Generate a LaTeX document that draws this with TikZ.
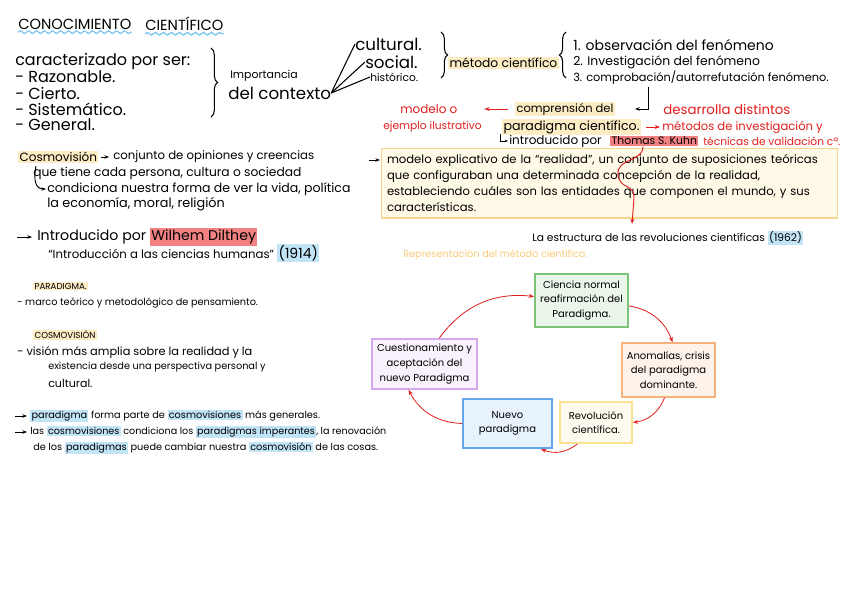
\documentclass[tikz,border=0pt]{standalone}
\usepackage{fontspec}
\setmainfont{Poppins}
\usetikzlibrary{positioning, arrows.meta, calc, decorations.pathreplacing, decorations.pathmorphing}

\definecolor{notered}{RGB}{226, 30, 30}
\definecolor{hlyellow}{RGB}{252, 236, 196}
\definecolor{hlblue}{RGB}{194, 228, 247}
\definecolor{hlred}{RGB}{242, 130, 130}
\definecolor{wavyblue}{RGB}{120, 196, 238}
\definecolor{boxfill}{RGB}{255, 250, 232}
\definecolor{boxline}{RGB}{246, 214, 140}
\definecolor{softorange}{RGB}{248, 204, 120}
\definecolor{stgreen}{RGB}{124, 196, 120}
\definecolor{storange}{RGB}{246, 178, 122}
\definecolor{styellow}{RGB}{250, 226, 145}
\definecolor{stblue}{RGB}{100, 165, 240}
\definecolor{stpurple}{RGB}{214, 168, 240}

\newcommand{\hly}[1]{{\setlength{\fboxsep}{1pt}\colorbox{hlyellow}{#1}}}
\newcommand{\hlb}[1]{{\setlength{\fboxsep}{1pt}\colorbox{hlblue}{#1}}}
\newcommand{\hlr}[1]{{\setlength{\fboxsep}{1pt}\colorbox{hlred}{#1}}}

\tikzset{
  txt/.style={anchor=west, inner sep=0pt, font=\fontsize{#1}{13}\selectfont},
  txt/.default=10,
  arr/.style={-{Stealth[length=3.5pt]}, line width=0.7pt},
  redarr/.style={-{Stealth[length=4pt]}, notered, line width=0.7pt},
  cycarr/.style={-{Stealth[length=4pt]}, notered, line width=0.6pt, bend left=30},
  curly/.style={decorate, decoration={brace, amplitude=5pt}, line width=0.8pt},
  wavy/.style={wavyblue, line width=0.9pt, decorate, decoration={snake, amplitude=1pt, segment length=6pt}},
  stage/.style={draw=#1, fill=#1!15, line width=1.2pt, align=center, inner sep=2pt, font=\fontsize{7.5}{11}\selectfont},
}

\begin{document}
\begin{tikzpicture}[x=0.75pt, y=-0.75pt]
  \fill[white] (0,0) rectangle (848,599);
  \useasboundingbox (0,0) rectangle (848,599);

  % title
  \node[txt=11] (title1) at (18,24) {CONOCIMIENTO};
  \node[txt=11] (title2) at (145,24) {CIENTÍFICO};
  \draw[wavy] ([yshift=-2pt]title1.south west) -- ([yshift=-2pt]title1.south east);
  \draw[wavy] ([yshift=-2pt]title2.south west) -- ([yshift=-2pt]title2.south east);

  % caracteristicas
  \node[txt=12] (carac) at (15,61) {caracterizado por ser:};
  \node[txt=12] (razon) at (15,77) {- Razonable.};
  \node[txt=12] (cierto) at (15,93) {- Cierto.};
  \node[txt=12] (sistem) at (15,109) {- Sistemático.};
  \node[txt=12] (general) at (15,125) {- General.};
  \draw[curly] (211,48) -- (211,117);

  \node[txt=8.2] (import) at (230,76) {Importancia};
  \node[txt=12.5] (ctx) at (228,93) {del contexto};
  \node[txt=12.5] (cult) at (355,44) {cultural.};
  \node[txt=12.5] (soc) at (365,62) {social.};
  \node[txt=8] (hist) at (370,77) {histórico.};
  \draw[line width=0.8pt] (ctx.east) -- (cult.west);
  \draw[line width=0.8pt] (ctx.east) -- (soc.west);
  \draw[line width=0.8pt] (ctx.east) -- (hist.west);

  % metodo cientifico
  \draw[curly] (441,32) -- (441,78);
  \node[txt=9.2] (metodo) at (448,63) {\hly{método científico}};
  \draw[curly] (566,78) -- (566,32);
  \node[txt=10.5] (obs) at (573,45) {1. observación del fenómeno};
  \node[txt=9.3] (inv) at (573,62) {2. Investigación del fenómeno};
  \node[txt=8.5] (comprob) at (573,78) {3. comprobación/autorrefutación fenómeno.};

  % paradigma cientifico
  \node[txt=9, text=notered] (modelo) at (400,109) {modelo o};
  \node[txt=8, text=notered] (ejemplo) at (383,127) {ejemplo ilustrativo};
  \node[txt=8.6] (compr) at (515,109) {\hly{comprensión del}};
  \node[txt=9.5] (parad) at (502,127) {\hly{paradigma científico.}};
  \node[txt=10, text=notered] (desarr) at (663,109) {desarrolla distintos};
  \node[txt=8.7, text=notered] (metodos) at (662,127) {métodos de investigación y};
  \node[txt=9] (intro) at (509,141) {introducido por};
  \node[txt=8.1] (kuhn) at (610,141) {\hlr{Thomas S. Kuhn}};
  \node[txt=8, text=notered] (tecnicas) at (703,141) {técnicas de validación cª.};
  \draw[redarr, shorten >=20pt, shorten <=5pt] (compr.west) -- (modelo.east);
  \draw[redarr, shorten >=1.5pt, shorten <=4pt] (parad.east) -- (metodos.west);
  \draw[arr] ($(comprob.south west)+(75,2)$) |- ($(compr.east)+(20,0)$);
  \draw[-{Stealth[length=2.5pt]}, line width=0.6pt] ($(intro.west)+(-9,-7)$) |- ($(intro.west)+(-1,0)$);

  \node[draw=boxline, fill=boxfill, line width=1pt, anchor=north west, text width=334pt,
        minimum height=52pt, inner xsep=4pt, inner ysep=3pt, align=left,
        font=\fontsize{8.7}{12}\selectfont] (defbox) at (381,148)
    {modelo explicativo de la “realidad”, un conjunto de suposiciones teóricas\\
     que configuraban una determinada concepción de la realidad,\\
     estableciendo cuáles son las entidades que componen el mundo, y sus\\
     características.};
  \draw[arr] ($(defbox.north west)+(-12,12)$) -- ($(defbox.north west)+(-1,12)$);

  \node[txt=8] (estr) at (532,238) {La estructura de las revoluciones científicas \hlb{(1962)}};
  \coordinate (estrtip) at (632,224);
  \draw[redarr] ($(kuhn.south west)+(33,0)$) .. controls (643,162) and (616,158) .. (618,175)
    .. controls (620,190) and (634,183) .. (634,198) -- (estrtip);
  \node[txt=7.3, text=softorange] (repr) at (403,255) {Representación del método científico.};

  % cosmovision
  \node[txt=9] (cosmo) at (18,157) {\hly{Cosmovisión}};
  \node[txt=8.8] (conj) at (113,157) {conjunto de opiniones y creencias};
  \draw[arr, shorten <=2pt, shorten >=3pt] (cosmo.east) -- (conj.west);
  \node[txt=9.2] (cada) at (33,173) {que tiene cada persona, cultura o sociedad};
  \node[txt=9.4] (cond) at (47,189) {condiciona nuestra forma de ver la vida, política};
  \node[txt=9.6] (econ) at (47,204) {la economía, moral, religión};
  \draw[arr] ($(cada.west)+(3,-7)$) .. controls ($(cada.west)+(0,8)$) and ($(cond.west)+(-11,0)$) .. ($(cond.west)+(-1,0)$);

  \node[txt=10.6] (introd) at (37,237) {Introducido por \hlr{Wilhem Dilthey}};
  \draw[arr] ($(introd.west)+(-20,0)$) -- ($(introd.west)+(-5,0)$);
  \node[txt=8.8] (libro) at (48,253) {“Introducción a las ciencias humanas” \hlb{\fontsize{10.5}{13}\selectfont(1914)}};

  % definiciones
  \node[txt=6.5] (pardef) at (33,286) {\hly{PARADIGMA.}};
  \node[txt=7.3] (marco) at (17,303) {- marco teórico y metodológico de pensamiento.};
  \node[txt=6.5] (cosdef) at (33,335) {\hly{COSMOVISIÓN}};
  \node[txt=8.5] (vision1) at (17,352) {- visión más amplia sobre la realidad y la};
  \node[txt=7.3] (vision2) at (48,367) {existencia desde una perspectiva personal y};
  \node[txt=8.3] (vision3) at (48,383) {cultural.};

  \node[txt=7.3] (rel1) at (30,416) {\hlb{paradigma} forma parte de \hlb{cosmovisiones} más generales.};
  \node[txt=7.2] (rel2) at (30,432) {las \hlb{cosmovisiones} condiciona los \hlb{paradigmas imperantes}, la renovación};
  \node[txt=7.3] (rel3) at (33,448) {de los \hlb{paradigmas} puede cambiar nuestra \hlb{cosmovisión} de las cosas.};
  \draw[arr] ($(rel1.west)+(-15,0)$) -- ($(rel1.west)+(-3,0)$);
  \draw[arr] ($(rel2.west)+(-15,0)$) -- ($(rel2.west)+(-3,0)$);

  % ciclo
  \node[stage=stgreen, minimum width=70pt, minimum height=40pt] (normal) at (581.5,300.5)
    {Ciencia normal\\reafirmación del\\Paradigma.};
  \node[stage=storange, minimum width=70pt, minimum height=40.5pt] (anomal) at (668.5,370)
    {Anomalías, crisis\\del paradigma\\dominante.};
  \node[stage=styellow, minimum width=54pt, minimum height=31pt] (revol) at (596,422.5)
    {Revolución\\científica.};
  \node[stage=stblue, minimum width=67pt, minimum height=37pt] (nuevo) at (507.5,423.5)
    {Nuevo\\paradigma};
  \node[stage=stpurple, minimum width=79pt, minimum height=37.5pt] (cuest) at (424.5,364)
    {Cuestionamiento y\\aceptación del\\nuevo Paradigma};
  \draw[cycarr] ([xshift=11pt]cuest.north) to ([yshift=3pt]normal.west);
  \draw[cycarr] ([yshift=-4pt]normal.east) to ([xshift=3pt]anomal.north);
  \draw[cycarr] ([xshift=-3pt]anomal.south) to (revol.east);
  \draw[cycarr] ([xshift=-14pt]revol.south) to ([xshift=-9pt]nuevo.south east);
  \draw[cycarr] (nuevo.west) to ([xshift=-12pt]cuest.south);
\end{tikzpicture}
\end{document}
